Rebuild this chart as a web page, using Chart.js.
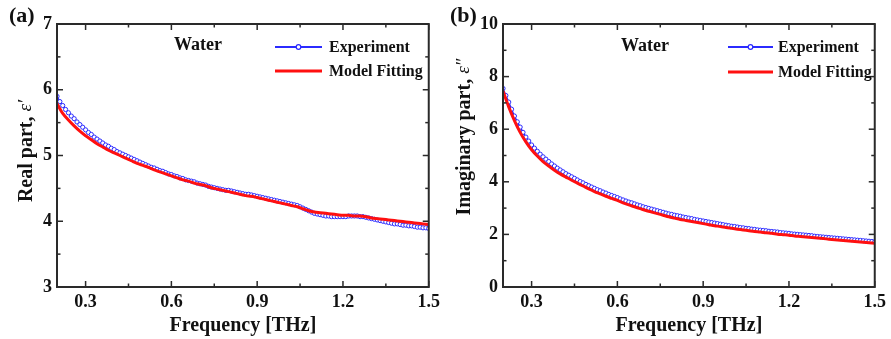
<!DOCTYPE html>
<html>
<head>
<meta charset="utf-8">
<script src="https://cdn.jsdelivr.net/npm/chart.js@4.4.1/dist/chart.umd.min.js"></script>
<style>
  html, body { margin: 0; padding: 0; background: #fff; }
  #wrap { position: relative; width: 891px; height: 339px; overflow: hidden; }
  #c1 { position: absolute; left: 0; top: 0; }
  #c2 { position: absolute; left: 445px; top: 0; }
</style>
</head>
<body>
<div id="wrap">
  <canvas id="c1" width="445" height="339"></canvas>
  <canvas id="c2" width="446" height="339"></canvas>
</div>
<script>
// ---- Data ----
// Experiment frequencies (THz)
const freqExp = [0.20,0.21,0.22,0.23,0.24,0.25,0.26,0.27,0.28,0.29,0.30,0.31,0.32,0.33,0.34,0.35,0.36,0.37,0.38,0.39,0.40,0.41,0.42,0.43,0.44,0.45,0.46,0.47,0.48,0.49,0.50,0.51,0.52,0.53,0.54,0.55,0.56,0.57,0.58,0.59,0.60,0.61,0.62,0.63,0.64,0.65,0.66,0.67,0.68,0.69,0.70,0.71,0.72,0.73,0.74,0.75,0.76,0.77,0.78,0.79,0.80,0.81,0.82,0.83,0.84,0.85,0.86,0.87,0.88,0.89,0.90,0.91,0.92,0.93,0.94,0.95,0.96,0.97,0.98,0.99,1.00,1.01,1.02,1.03,1.04,1.05,1.06,1.07,1.08,1.09,1.10,1.11,1.12,1.13,1.14,1.15,1.16,1.17,1.18,1.19,1.20,1.21,1.22,1.23,1.24,1.25,1.26,1.27,1.28,1.29,1.30,1.31,1.32,1.33,1.34,1.35,1.36,1.37,1.38,1.39,1.40,1.41,1.42,1.43,1.44,1.45,1.46,1.47,1.48,1.49,1.50];
// Model fitting frequencies (THz)
const freqFit = [0.20,0.22,0.24,0.26,0.28,0.30,0.32,0.34,0.36,0.38,0.40,0.42,0.44,0.46,0.48,0.50,0.52,0.54,0.56,0.58,0.60,0.62,0.64,0.66,0.68,0.70,0.72,0.74,0.76,0.78,0.80,0.82,0.84,0.86,0.88,0.90,0.92,0.94,0.96,0.98,1.00,1.02,1.04,1.06,1.08,1.10,1.12,1.14,1.16,1.18,1.20,1.22,1.24,1.26,1.28,1.30,1.32,1.34,1.36,1.38,1.40,1.42,1.44,1.46,1.48,1.50];

// (a) real part
const realExp = [5.90,5.82,5.76,5.70,5.65,5.60,5.56,5.51,5.47,5.43,5.39,5.35,5.32,5.28,5.25,5.22,5.19,5.16,5.14,5.11,5.09,5.06,5.04,5.02,5.00,4.98,4.96,4.94,4.92,4.90,4.88,4.86,4.84,4.82,4.81,4.79,4.77,4.76,4.74,4.72,4.71,4.69,4.68,4.66,4.65,4.63,4.62,4.61,4.60,4.58,4.57,4.56,4.55,4.53,4.52,4.51,4.50,4.49,4.48,4.47,4.47,4.46,4.45,4.44,4.43,4.42,4.41,4.41,4.40,4.39,4.38,4.37,4.36,4.35,4.34,4.33,4.32,4.31,4.30,4.29,4.28,4.27,4.26,4.25,4.24,4.22,4.20,4.18,4.16,4.14,4.12,4.11,4.10,4.09,4.08,4.08,4.07,4.07,4.07,4.07,4.07,4.07,4.08,4.08,4.08,4.08,4.07,4.07,4.06,4.05,4.04,4.03,4.02,4.01,4.00,3.99,3.98,3.97,3.96,3.96,3.95,3.94,3.94,3.93,3.93,3.92,3.91,3.91,3.90,3.90,3.89];
const realFit = [5.79,5.64,5.54,5.45,5.37,5.30,5.24,5.18,5.13,5.08,5.04,5.00,4.96,4.92,4.88,4.85,4.82,4.78,4.75,4.72,4.69,4.66,4.63,4.61,4.58,4.56,4.54,4.51,4.49,4.47,4.45,4.43,4.41,4.39,4.38,4.36,4.34,4.32,4.30,4.28,4.26,4.24,4.22,4.19,4.16,4.14,4.13,4.12,4.11,4.10,4.09,4.09,4.08,4.08,4.07,4.05,4.04,4.03,4.02,4.01,4.00,3.99,3.98,3.97,3.96,3.95];

// (b) imaginary part
const imagExp = [7.55,7.28,7.03,6.76,6.50,6.28,6.08,5.88,5.70,5.55,5.40,5.28,5.16,5.05,4.95,4.86,4.77,4.68,4.60,4.52,4.45,4.38,4.31,4.25,4.19,4.13,4.07,4.01,3.96,3.90,3.85,3.80,3.75,3.70,3.66,3.61,3.57,3.52,3.48,3.44,3.40,3.35,3.31,3.27,3.23,3.20,3.16,3.12,3.09,3.05,3.02,2.99,2.96,2.93,2.90,2.87,2.84,2.81,2.78,2.76,2.73,2.71,2.69,2.66,2.64,2.62,2.60,2.57,2.55,2.53,2.51,2.49,2.47,2.45,2.43,2.41,2.39,2.37,2.35,2.33,2.31,2.30,2.28,2.26,2.25,2.23,2.22,2.20,2.19,2.17,2.16,2.15,2.14,2.12,2.11,2.10,2.09,2.07,2.06,2.05,2.04,2.02,2.01,2.00,1.99,1.98,1.97,1.96,1.95,1.93,1.92,1.91,1.90,1.89,1.88,1.87,1.86,1.85,1.84,1.83,1.82,1.81,1.80,1.79,1.78,1.77,1.76,1.75,1.74,1.73,1.72];
const imagFit = [7.45,6.85,6.33,5.88,5.52,5.22,4.98,4.77,4.60,4.44,4.30,4.18,4.06,3.95,3.84,3.73,3.63,3.54,3.45,3.37,3.29,3.20,3.12,3.05,2.98,2.91,2.85,2.79,2.73,2.67,2.62,2.57,2.53,2.49,2.45,2.41,2.37,2.33,2.30,2.26,2.23,2.20,2.17,2.14,2.11,2.09,2.06,2.04,2.01,1.99,1.97,1.94,1.92,1.90,1.88,1.86,1.84,1.82,1.80,1.78,1.76,1.74,1.72,1.70,1.68,1.66];

// Ticks
const xMajor = [0.3,0.6,0.9,1.2,1.5];
const xMinor = [0.45,0.75,1.05,1.35];
const realMajor = [3,4,5,6,7];
const realMinor = [3.5,4.5,5.5,6.5];
const imagMajor = [0,2,4,6,8,10];
const imagMinor = [1,3,5,7,9];

const seriesNames = ['Experiment','Model Fitting'];
const sampleName = 'Water';

// ---- Styles ----
const FONT = '"Liberation Serif", "Times New Roman", serif';
const BLUE = '#2b2bff';
const RED = '#ff1010';
const AXIS = '#2a2a2a';

function pts(xs, ys) { return xs.map((x, i) => ({x: x, y: ys[i]})); }

function framePlugin(cfg) {
  return {
    id: 'frame' + cfg.tag,
    afterDraw(chart) {
      const ctx = chart.ctx;
      const a = chart.chartArea;
      const xs = chart.scales.x, ys = chart.scales.y;
      ctx.save();
      ctx.strokeStyle = AXIS;
      ctx.lineWidth = 1.5;
      const tick = (x1, y1, x2, y2) => { ctx.beginPath(); ctx.moveTo(x1, y1); ctx.lineTo(x2, y2); ctx.stroke(); };
      xMajor.forEach(v => { const p = xs.getPixelForValue(v); tick(p, a.bottom, p, a.bottom - 6); tick(p, a.top, p, a.top + 6); });
      xMinor.forEach(v => { const p = xs.getPixelForValue(v); tick(p, a.bottom, p, a.bottom - 3.5); tick(p, a.top, p, a.top + 3.5); });
      cfg.yMajor.forEach(v => { const p = ys.getPixelForValue(v); tick(a.left, p, a.left + 6, p); tick(a.right, p, a.right - 6, p); });
      cfg.yMinor.forEach(v => { const p = ys.getPixelForValue(v); tick(a.left, p, a.left + 3.5, p); tick(a.right, p, a.right - 3.5, p); });
      ctx.lineWidth = 2;
      ctx.strokeRect(a.left, a.top, a.right - a.left, a.bottom - a.top);

      ctx.fillStyle = '#111';
      ctx.textBaseline = 'middle';

      // y-axis title (rotated)
      ctx.save();
      ctx.translate(cfg.yTitleX, cfg.yTitleY);
      ctx.rotate(-Math.PI / 2);
      const f1 = 'bold 20px ' + FONT, f2 = 'italic 19px ' + FONT;
      ctx.font = f1; const w1 = ctx.measureText(cfg.yTitle[0]).width;
      ctx.font = f2; const w2 = ctx.measureText(cfg.yTitle[1]).width;
      const x0 = -(w1 + w2) / 2;
      ctx.textAlign = 'left';
      ctx.font = f1; ctx.fillText(cfg.yTitle[0], x0, 0);
      ctx.font = f2; ctx.fillText(cfg.yTitle[1], x0 + w1, -1);
      ctx.restore();

      // panel label
      ctx.textAlign = 'left';
      ctx.font = 'bold 22px ' + FONT;
      ctx.fillText(cfg.panel, cfg.panelX, 16);

      // sample name
      ctx.font = 'bold 18px ' + FONT;
      ctx.textAlign = 'center';
      ctx.fillText(sampleName, cfg.waterX, cfg.waterY);

      // legend
      const L = cfg.legend;
      ctx.textAlign = 'left';
      ctx.font = 'bold 16px ' + FONT;
      ctx.strokeStyle = BLUE; ctx.lineWidth = 2;
      tick(L.x1, L.y1, L.x2, L.y1);
      ctx.beginPath(); ctx.arc((L.x1 + L.x2) / 2, L.y1, 2.3, 0, Math.PI * 2);
      ctx.fillStyle = '#fff'; ctx.fill(); ctx.lineWidth = 1.2; ctx.stroke();
      ctx.fillStyle = '#111';
      ctx.fillText(seriesNames[0], L.tx, L.y1 + 1);
      ctx.strokeStyle = RED; ctx.lineWidth = 3;
      tick(L.x1, L.y2, L.x2, L.y2);
      ctx.fillText(seriesNames[1], L.tx, L.y2 + 1);
      ctx.restore();
    }
  };
}

function makeChart(id, expData, fitData, yMin, yMax, yMajor, yMinor, W, areaRight, leftW, cfg) {
  return new Chart(document.getElementById(id), {
    type: 'line',
    data: {
      datasets: [
        {
          label: seriesNames[1],
          data: pts(freqFit, fitData),
          borderColor: RED,
          borderWidth: 3,
          pointRadius: 0,
          tension: 0.3,
          order: 0
        },
        {
          label: seriesNames[0],
          data: pts(freqExp, expData),
          borderColor: BLUE,
          borderWidth: 1.5,
          pointRadius: 2.1,
          pointBorderWidth: 1,
          pointBackgroundColor: '#ffffff',
          pointBorderColor: BLUE,
          tension: 0.2,
          order: 1
        }
      ]
    },
    options: {
      responsive: false,
      animation: false,
      events: [],
      layout: { padding: { top: 24, right: W - areaRight, left: 0, bottom: 0 } },
      plugins: { legend: { display: false }, tooltip: { enabled: false } },
      scales: {
        x: {
          type: 'linear',
          min: 0.2, max: 1.5,
          grid: { display: false, drawTicks: false },
          border: { display: false },
          afterBuildTicks: s => { s.ticks = xMajor.map(v => ({ value: v })); },
          afterFit: s => { s.height = 52; },
          ticks: {
            color: '#111',
            font: { family: FONT, size: 18, weight: 'bold' },
            padding: 5,
            maxRotation: 0,
            autoSkip: false,
            callback: v => v.toFixed(1)
          },
          title: {
            display: true,
            text: 'Frequency [THz]',
            color: '#111',
            font: { family: FONT, size: 20, weight: 'bold' },
            padding: { top: 0, bottom: 1 }
          }
        },
        y: {
          type: 'linear',
          min: yMin, max: yMax,
          grid: { display: false, drawTicks: false },
          border: { display: false },
          afterBuildTicks: s => { s.ticks = yMajor.map(v => ({ value: v })); },
          afterFit: s => { s.width = leftW; },
          ticks: {
            color: '#111',
            font: { family: FONT, size: 18, weight: 'bold' },
            padding: 5,
            autoSkip: false,
            callback: v => String(v)
          }
        }
      }
    },
    plugins: [framePlugin(Object.assign({ yMajor: yMajor, yMinor: yMinor }, cfg))]
  });
}

makeChart('c1', realExp, realFit, 3, 7, realMajor, realMinor, 445, 432, 57, {
  tag: 'a', panel: '(a)', panelX: 9, waterX: 198, waterY: 45,
  yTitle: ['Real part, ', '\u03B5\u2032'], yTitleX: 27, yTitleY: 151,
  legend: { x1: 275, x2: 322, tx: 329, y1: 47, y2: 71 }
});
makeChart('c2', imagExp, imagFit, 0, 10, imagMajor, imagMinor, 446, 432, 58, {
  tag: 'b', panel: '(b)', panelX: 5, waterX: 200, waterY: 46,
  yTitle: ['Imaginary part, ', '\u03B5\u2033'], yTitleX: 20, yTitleY: 137,
  legend: { x1: 283, x2: 328, tx: 333, y1: 47, y2: 72 }
});
</script>
</body>
</html>
